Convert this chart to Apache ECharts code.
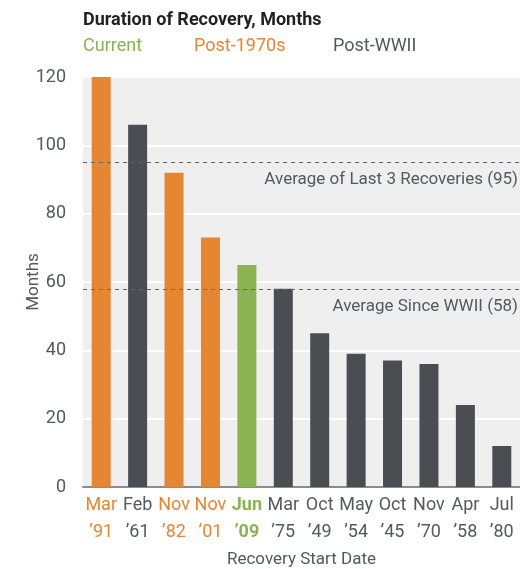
<!DOCTYPE html>
<html>
<head>
<meta charset="utf-8">
<script src="https://cdn.jsdelivr.net/npm/echarts@6/dist/echarts.min.js"></script>
<style>
  html, body { margin: 0; padding: 0; background: #fff; }
  #chart { width: 520px; height: 569px; }
</style>
</head>
<body>
<div id="chart"></div>
<script>
const months = ['Mar', 'Feb', 'Nov', 'Nov', 'Jun', 'Mar', 'Oct', 'May', 'Oct', 'Nov', 'Apr', 'Jul'];
const years = ['\u201991', '\u201961', '\u201982', '\u201901', '\u201909', '\u201975', '\u201949', '\u201954', '\u201945', '\u201970', '\u201958', '\u201980'];
const durations = [120, 106, 92, 73, 65, 58, 45, 39, 37, 36, 24, 12];
const groups = ['post70', 'war', 'post70', 'post70', 'current', 'war', 'war', 'war', 'war', 'war', 'war', 'war'];
const averages = [
  { label: 'Average of Last 3 Recoveries (95)', value: 95 },
  { label: 'Average Since WWII (58)', value: 58 },
];

const colors = { current: '#8ab352', post70: '#e48632', war: '#4a4d52' };
const textGray = '#55585d';
const font = "'Roboto', sans-serif";

const chart = echarts.init(document.getElementById('chart'));

const labelRich = {
  post70: { color: colors.post70, fontSize: 18, lineHeight: 27, fontFamily: font },
  war: { color: textGray, fontSize: 18, lineHeight: 27, fontFamily: font },
  current: { color: colors.current, fontSize: 18, lineHeight: 27, fontWeight: 'bold', fontFamily: font },
};

const option = {
  animation: false,
  textStyle: { fontFamily: font },
  title: {
    text: 'Duration of Recovery, Months',
    left: 78,
    top: 6,
    itemGap: 8,
    textStyle: { fontFamily: font, fontSize: 18, fontWeight: 'bold', color: '#231f20' },
    subtext: '{c|Current}{p|Post-1970s}{w|Post-WWII}',
    subtextStyle: {
      fontFamily: font,
      rich: {
        c: { color: colors.current, fontSize: 18, width: 111, fontFamily: font },
        p: { color: colors.post70, fontSize: 18, width: 139, fontFamily: font },
        w: { color: textGray, fontSize: 18, fontFamily: font },
      },
    },
  },
  grid: {
    left: 83,
    right: 0,
    top: 77,
    bottom: 82,
    outerBoundsMode: 'none',
    show: true,
    backgroundColor: '#efefef',
    borderWidth: 0,
  },
  xAxis: {
    type: 'category',
    data: months,
    name: 'Recovery Start Date',
    nameLocation: 'middle',
    nameGap: 64,
    nameMoveOverlap: false,
    nameTextStyle: { fontFamily: font, fontSize: 17, color: textGray },
    axisLine: { lineStyle: { color: '#8a8c8f', width: 2 } },
    axisTick: { show: false },
    axisLabel: {
      interval: 0,
      margin: 5,
      formatter: (v, i) => {
        const g = groups[i];
        return '{' + g + '|' + v + '}\n{' + g + '|' + years[i] + '}';
      },
      rich: labelRich,
    },
  },
  yAxis: {
    type: 'value',
    min: 0,
    max: 120,
    interval: 20,
    name: 'Months',
    nameLocation: 'middle',
    nameGap: 41,
    nameMoveOverlap: false,
    nameTextStyle: { fontFamily: font, fontSize: 17, color: textGray },
    axisLine: { show: false },
    axisTick: { show: false },
    axisLabel: { fontFamily: font, fontSize: 18, color: textGray, margin: 17 },
    splitLine: { lineStyle: { color: '#ffffff', width: 2 } },
  },
  series: [
    {
      type: 'bar',
      barWidth: 19,
      data: durations.map((v, i) => ({ value: v, itemStyle: { color: colors[groups[i]] } })),
      markLine: {
        silent: true,
        symbol: ['none', 'none'],
        lineStyle: { color: '#666', type: [4, 4], width: 1 },
        label: {
          position: 'insideEndBottom',
          formatter: (p) => p.name,
          fontFamily: font,
          fontSize: 17,
          color: textGray,
          distance: [2, 9],
        },
        data: averages.map((a) => ({ name: a.label, yAxis: a.value })),
      },
    },
  ],
};

chart.setOption(option);
</script>
</body>
</html>
